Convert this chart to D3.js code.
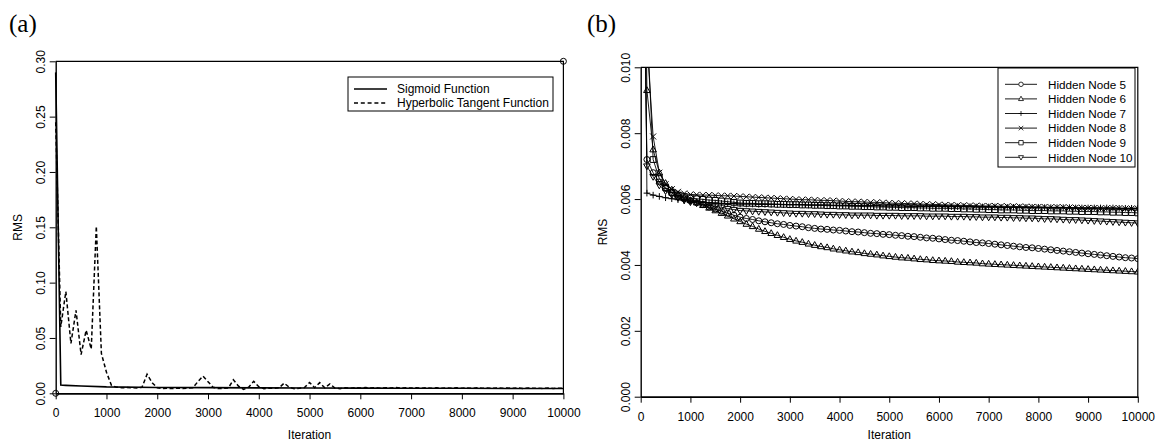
<!DOCTYPE html>
<html><head><meta charset="utf-8">
<script src="https://cdn.jsdelivr.net/npm/d3@7"></script>
<style>body{margin:0;background:#fff}svg{display:block}</style>
</head><body><svg id="c" width="1158" height="443"></svg>
<script>
// ---------- DATA ----------
const xTicks = [0,1000,2000,3000,4000,5000,6000,7000,8000,9000,10000];
const yTicksA = [0.00,0.05,0.10,0.15,0.20,0.25,0.30];
const yTicksB = [0.000,0.002,0.004,0.006,0.008,0.010];

const sigIter = [0,100,200,500,1000,2000,3000,4000,5000,6000,7000,8000,9000,10000];
const sigmoid = [0.29,0.0075,0.0072,0.0066,0.0058,0.0053,0.0051,0.0049,0.0048,0.0047,0.0046,0.0045,0.0044,0.0044];

const tanhIter = d3.range(0,10001,100);
const tanh = [0.245,0.060,0.092,0.045,0.075,0.035,0.057,0.040,0.151,0.036,
0.019,0.007,0.0055,0.0050,0.0052,0.0050,0.0048,0.0055,0.0172,0.0095,
0.0050,0.0042,0.0045,0.0043,0.0046,0.0044,0.0047,0.0050,0.0105,0.0155,
0.0105,0.0055,0.0043,0.0045,0.0048,0.0122,0.0065,0.0035,0.0055,0.0108,
0.0060,0.0042,0.0047,0.0044,0.0050,0.0092,0.0055,0.0042,0.0046,0.0052,
0.0098,0.0050,0.0096,0.0050,0.0085,0.0048,0.0042,0.0050,0.0046,0.0052,
0.0048,0.0053,0.0047,0.0052,0.0046,0.0051,0.0047,0.0052,0.0046,0.0050,
0.0047,0.0051,0.0046,0.0050,0.0045,0.0049,0.0046,0.0050,0.0045,0.0049,
0.0046,0.0049,0.0045,0.0049,0.0046,0.0048,0.0045,0.0049,0.0045,0.0048,
0.0045,0.0048,0.0044,0.0048,0.0045,0.0047,0.0044,0.0047,0.0044,0.0046,0.0044];

const nodeIter = d3.range(0,10001,125);
const node5 = [0.0200,0.00720,0.00680,0.00652,0.00632,0.00618,0.00608,0.00601,0.00595,
0.00589,0.00583,0.00576,0.00570, 0.00563,0.00557,0.00551,0.00545,
0.00541,0.00538,0.00534,0.00531, 0.00528,0.00525,0.00523,0.00520,
0.00518,0.00516,0.00513,0.00511, 0.00509,0.00508,0.00506,0.00505,
0.00503,0.00501,0.00500,0.00498, 0.00496,0.00495,0.00493,0.00492,
0.00490,0.00489,0.00487,0.00486, 0.00484,0.00482,0.00481,0.00479,
0.00477,0.00475,0.00474,0.00472, 0.00470,0.00468,0.00467,0.00465,
0.00463,0.00461,0.00459,0.00457, 0.00455,0.00453,0.00452,0.00450,
0.00448,0.00446,0.00444,0.00442, 0.00440,0.00438,0.00436,0.00434,
0.00432,0.00430,0.00428,0.00426, 0.00424,0.00422,0.00421,0.00419];
const node6 = [0.0250,0.00930,0.00750,0.00680,0.00648,0.00628,0.00614,0.00604,0.00596,
0.00589,0.00581,0.00573,0.00565, 0.00557,0.00549,0.00540,0.00532,
0.00524,0.00517,0.00509,0.00502, 0.00496,0.00490,0.00484,0.00478,
0.00473,0.00469,0.00464,0.00460, 0.00456,0.00453,0.00449,0.00446,
0.00443,0.00440,0.00438,0.00435, 0.00433,0.00431,0.00428,0.00426,
0.00424,0.00422,0.00421,0.00419, 0.00417,0.00416,0.00414,0.00413,
0.00412,0.00411,0.00409,0.00408, 0.00407,0.00406,0.00404,0.00403,
0.00402,0.00401,0.00400,0.00399, 0.00398,0.00397,0.00396,0.00395,
0.00394,0.00393,0.00392,0.00391, 0.00390,0.00389,0.00388,0.00387,
0.00386,0.00385,0.00384,0.00383, 0.00382,0.00381,0.00380,0.00379];
const node7 = [0.0300,0.00618,0.00612,0.00608,0.00604,0.00601,0.00598,0.00595,0.00593,
0.00592,0.00591,0.00589,0.00588,0.00587,0.00586,0.00586,0.00585,
0.00585,0.00585,0.00584,0.00584,0.00584,0.00584,0.00583,0.00583,
0.00583,0.00583,0.00582,0.00582, 0.00582,0.00582,0.00581,0.00581,
0.00581,0.00581,0.00580,0.00580, 0.00580,0.00580,0.00579,0.00579,
0.00579,0.00579,0.00578,0.00578, 0.00578,0.00578,0.00578,0.00578,
0.00577,0.00577,0.00577,0.00577, 0.00577,0.00576,0.00576,0.00576,
0.00576,0.00575,0.00575,0.00575, 0.00575,0.00575,0.00575,0.00575,
0.00574,0.00574,0.00574,0.00574, 0.00574,0.00573,0.00573,0.00573,
0.00573,0.00573,0.00573,0.00573, 0.00572,0.00572,0.00572,0.00572];
const node8 = [0.0300,0.0108,0.0079,0.0068,0.00645,0.00630,0.00622,0.00617,0.00614,
0.00613,0.00612,0.00612,0.00611,0.00610,0.00610,0.00609,0.00608,
0.00607,0.00606,0.00605,0.00604,0.00603,0.00602,0.00601,0.00600,
0.00599,0.00598,0.00598,0.00597,0.00596,0.00596,0.00595,0.00594,
0.00593,0.00592,0.00592,0.00591,0.00590,0.00590,0.00589,0.00588,
0.00587,0.00587,0.00586,0.00586,0.00585,0.00584,0.00584,0.00583,
0.00582,0.00582,0.00581,0.00581,0.00580,0.00580,0.00579,0.00579,
0.00579,0.00578,0.00578,0.00578,0.00577,0.00577,0.00576,0.00576,
0.00576,0.00575,0.00575,0.00575,0.00574,0.00574,0.00573,0.00573,
0.00573,0.00572,0.00572,0.00572,0.00572,0.00571,0.00571,0.00571];
const node9 = [0.0300,0.0115,0.00720,0.00662,0.00635,0.00620,0.00612,0.00607,0.00603,
0.00601,0.00599,0.00597,0.00596,0.00594,0.00592,0.00590,0.00588,
0.00587,0.00587,0.00586,0.00586,0.00585,0.00584,0.00584,0.00583,
0.00583,0.00582,0.00582,0.00581,0.00581,0.00580,0.00580,0.00579,
0.00579,0.00578,0.00578,0.00577,0.00577,0.00576,0.00576,0.00575,
0.00575,0.00574,0.00574,0.00574,0.00573,0.00573,0.00572,0.00572,
0.00572,0.00571,0.00571,0.00570,0.00570,0.00569,0.00569,0.00568,
0.00568,0.00567,0.00567,0.00567,0.00566,0.00566,0.00565,0.00565,
0.00565,0.00564,0.00564,0.00564,0.00563,0.00563,0.00562,0.00562,
0.00562,0.00561,0.00561,0.00560,0.00560,0.00559,0.00559,0.00558];
const node10 = [0.0200,0.00700,0.00668,0.00642,0.00625,0.00613,0.00604,0.00597,0.00591,
0.00588,0.00584,0.00581,0.00578,0.00575,0.00571,0.00568,0.00565,
0.00564,0.00563,0.00562,0.00561,0.00560,0.00559,0.00558,0.00557,
0.00556,0.00556,0.00555,0.00555,0.00554,0.00553,0.00553,0.00552,
0.00552,0.00551,0.00551,0.00551,0.00551,0.00550,0.00550,0.00550,
0.00550,0.00549,0.00549,0.00549,0.00549,0.00548,0.00548,0.00548,
0.00548,0.00547,0.00547,0.00547,0.00546,0.00546,0.00545,0.00545,
0.00545,0.00544,0.00544,0.00543,0.00543,0.00542,0.00542,0.00541,
0.00540,0.00540,0.00539,0.00538,0.00537,0.00537,0.00536,0.00535,
0.00534,0.00533,0.00532,0.00531,0.00530,0.00529,0.00528,0.00527];

const nodeSeries = [
  {name:"Hidden Node 5", sym:"circle", values:node5},
  {name:"Hidden Node 6", sym:"tri", values:node6},
  {name:"Hidden Node 7", sym:"plus", values:node7},
  {name:"Hidden Node 8", sym:"cross", values:node8},
  {name:"Hidden Node 9", sym:"square", values:node9},
  {name:"Hidden Node 10", sym:"tridown", values:node10}
];

// ---------- DRAW ----------
const SANS = '"Liberation Sans",Arial,sans-serif';
const SERIF = '"Liberation Serif","Times New Roman",serif';
const svg = d3.select("#c").style("font-family",SANS);

function symPath(t,x,y,k){
  k = k||1;
  if(t==="circle"){const r=3*k;return `M${x-r},${y}a${r},${r} 0 1,0 ${2*r},0a${r},${r} 0 1,0 ${-2*r},0Z`;}
  if(t==="tri"){const a=3.3*k;return `M${x},${y-3.6*k}L${x+a},${y+2.2*k}L${x-a},${y+2.2*k}Z`;}
  if(t==="tridown"){const a=3.3*k;return `M${x},${y+3.6*k}L${x+a},${y-2.2*k}L${x-a},${y-2.2*k}Z`;}
  if(t==="plus"){const a=3.3*k;return `M${x-a},${y}H${x+a}M${x},${y-a}V${y+a}`;}
  if(t==="cross"){const a=3*k;return `M${x-a},${y-a}L${x+a},${y+a}M${x-a},${y+a}L${x+a},${y-a}`;}
  if(t==="square"){const a=2.9*k;return `M${x-a},${y-a}h${2*a}v${2*a}h${-2*a}Z`;}
}

function styleAxis(g){
  g.attr("font-family",null).attr("font-size",null);
  g.selectAll("text").style("font-family",SANS).attr("font-size",12).attr("fill","#000");
  g.selectAll("line").attr("stroke","#000").attr("stroke-width",1);
}

function panel(opt){
  const {x,y,yfmt,yTicks,title,titleX,rmsX} = opt;
  const [x0,x1]=x.range(), [y0,y1]=y.range();
  const gx = svg.append("g").attr("transform",`translate(0,${y0})`)
    .call(d3.axisBottom(x).tickValues(xTicks).tickSize(6).tickSizeOuter(0).tickFormat(d3.format("d")));
  styleAxis(gx);
  gx.select(".domain").attr("stroke","#000").attr("stroke-width",1.8);
  gx.selectAll("text").attr("y",24).attr("dy",null);
  const gy = svg.append("g").attr("transform",`translate(${x0},0)`)
    .call(d3.axisLeft(y).tickValues(yTicks).tickSize(6).tickSizeOuter(0).tickFormat(d3.format(yfmt)));
  styleAxis(gy);
  gy.select(".domain").attr("stroke","#000").attr("stroke-width",1.4);
  gy.selectAll("text").attr("transform","rotate(-90)").attr("x",0).attr("y",-11).attr("dy",null).attr("text-anchor","middle");
  svg.append("path").attr("d",`M${x0},${y1}H${x1}V${y0}`).attr("fill","none").attr("stroke","#000").attr("stroke-width",1.2);
  svg.append("text").attr("x",(x0+x1)/2).attr("y",439).attr("text-anchor","middle").attr("font-size",12).text("Iteration");
  svg.append("text").attr("transform",`translate(${rmsX},${(y0+y1)/2}) rotate(-90)`).attr("text-anchor","middle").attr("font-size",12).text("RMS");
  svg.append("text").attr("x",titleX).attr("y",32).attr("font-size",25).style("font-family",SERIF).text(title);
}

// Panel (a)
const xa = d3.scaleLinear().domain([0,10000]).range([55.7,563.4]);
const ya = d3.scaleLinear().domain([0,0.30]).range([393.3,61.3]);
panel({x:xa,y:ya,yfmt:".2f",yTicks:yTicksA,title:"(a)",titleX:9,rmsX:22});

const lineA = d3.line().x(d=>xa(d[0])).y(d=>ya(d[1]));
svg.append("path").attr("d",lineA(sigIter.map((t,i)=>[t,sigmoid[i]])))
  .attr("fill","none").attr("stroke","#000").attr("stroke-width",1.6);
svg.append("path").attr("d",lineA(tanhIter.map((t,i)=>[t,tanh[i]])))
  .attr("fill","none").attr("stroke","#000").attr("stroke-width",1.5).attr("stroke-dasharray","4,2.5");
[[0,0],[10000,0.30]].forEach(p=>{
  svg.append("circle").attr("cx",xa(p[0])).attr("cy",ya(p[1])).attr("r",3).attr("fill","none").attr("stroke","#000").attr("stroke-width",1);
});

const la = svg.append("g");
la.append("rect").attr("x",348).attr("y",77).attr("width",205).attr("height",34).attr("fill","#fff").attr("stroke","#000").attr("stroke-width",1);
la.append("line").attr("x1",354).attr("x2",387).attr("y1",89).attr("y2",89).attr("stroke","#000").attr("stroke-width",1.6);
la.append("line").attr("x1",354).attr("x2",387).attr("y1",103).attr("y2",103).attr("stroke","#000").attr("stroke-width",1.5).attr("stroke-dasharray","4,2.8");
la.append("text").attr("x",397).attr("y",93.3).attr("font-size",12).text("Sigmoid Function");
la.append("text").attr("x",397).attr("y",107.3).attr("font-size",12).text("Hyperbolic Tangent Function");

// Panel (b)
const xb = d3.scaleLinear().domain([0,10000]).range([640.7,1137.8]);
const yb = d3.scaleLinear().domain([0,0.010]).range([396.7,67.3]);
panel({x:xb,y:yb,yfmt:".3f",yTicks:yTicksB,title:"(b)",titleX:587,rmsX:607});

svg.append("clipPath").attr("id","clipB").append("rect").attr("x",641).attr("y",67.3).attr("width",497).attr("height",329.4);
const gb = svg.append("g").attr("clip-path","url(#clipB)");
const lineB = d3.line().x(d=>xb(d[0])).y(d=>yb(d[1]));
nodeSeries.forEach(s=>{
  const pts = nodeIter.map((t,i)=>[t,s.values[i]]);
  gb.append("path").attr("d",lineB(pts)).attr("fill","none").attr("stroke","#000").attr("stroke-width",0.9);
  gb.append("path").attr("d",pts.slice(1).map(p=>symPath(s.sym,xb(p[0]),yb(p[1]))).join(""))
    .attr("fill","none").attr("stroke","#000").attr("stroke-width",1);
});

const lb = svg.append("g");
lb.append("rect").attr("x",998).attr("y",68).attr("width",137).attr("height",99).attr("fill","#fff").attr("stroke","#000").attr("stroke-width",1);
nodeSeries.forEach((s,i)=>{
  const yy = 84.3 + i*14.6;
  lb.append("line").attr("x1",1005).attr("x2",1037).attr("y1",yy).attr("y2",yy).attr("stroke","#000").attr("stroke-width",0.9);
  lb.append("path").attr("d",symPath(s.sym,1021,yy,0.75)).attr("fill","#fff").attr("stroke","#000").attr("stroke-width",0.8);
  lb.append("text").attr("x",1048).attr("y",yy+4.3).attr("font-size",11.7).text(s.name);
});
</script></body></html>
